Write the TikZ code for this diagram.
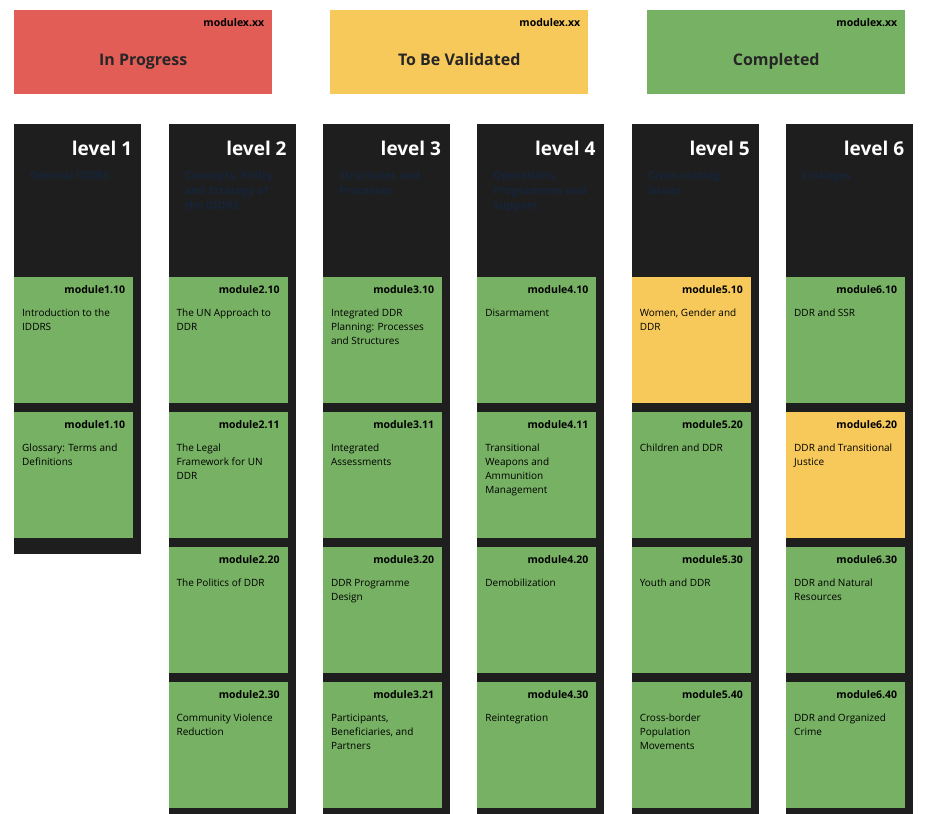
\documentclass[tikz,border=0pt]{standalone}
\usepackage{fontspec}
\setmainfont{Open Sans}
\usetikzlibrary{positioning}
\definecolor{redbox}{HTML}{E35D57}
\definecolor{yellowbox}{HTML}{F6C95A}
\definecolor{greenbox}{HTML}{77B163}
\definecolor{columnbg}{HTML}{1E1E1E}
\definecolor{subtext}{HTML}{16243A}
\tikzset{
	legend/.style={draw=none, minimum width=258pt, minimum height=84pt, anchor=north west},
	column/.style={fill=columnbg, draw=none, minimum width=127pt, anchor=north west},
	card/.style={draw=none, minimum width=119pt, minimum height=126pt, anchor=north west},
	tag/.style={font=\fontsize{10.5}{12}\selectfont\bfseries, anchor=north east, inner sep=0pt},
	body/.style={font=\fontsize{10}{14}\selectfont, align=left, anchor=north west, inner sep=0pt},
	lvl/.style={font=\fontsize{19}{20}\selectfont\bfseries, text=white, anchor=north east, inner sep=0pt},
	sub/.style={font=\fontsize{11}{15}\selectfont\bfseries, text=subtext, align=left, anchor=north west, inner sep=0pt},
}
% card: name, column, row, colour, module, text
\newcommand{\card}[6]{
	\node[card, fill=#4] (#1) at ({14+154.4*(#2-1)},{-277-135*(#3-1)}) {};
	\node[tag] (#1tag) at ([xshift=-8pt,yshift=-8pt]#1.north east) {#5};
	\node[body] (#1txt) at ([xshift=8pt,yshift=-32pt]#1.north west) {#6};
}
\begin{document}
\begin{tikzpicture}[x=1pt,y=1pt]
	\useasboundingbox (0,0) rectangle (927,-814);
	% legend
	\foreach \n/\x/\c/\t in {prog/14/redbox/In Progress, valid/330/yellowbox/To Be Validated, done/647/greenbox/Completed}{
		\node[legend, fill=\c] (\n) at (\x,-10) {};
		\node[tag] (\n tag) at ([xshift=-8pt,yshift=-8pt]\n.north east) {modulex.xx};
		\node[font=\fontsize{16}{18}\selectfont\bfseries, text=black!85, anchor=base, inner sep=0pt] (\n txt) at ([yshift=-13pt]\n.center) {\t};
	}
	% columns
	\foreach \i/\h/\s in {1/430/General IDDRS, 2/690/{Concepts, Policy\\and Strategy of\\the IDDRS}, 3/690/{Structures and\\Processes}, 4/690/{Operations,\\Programmes and\\Support}, 5/690/{Cross-cutting\\Issues}, 6/690/Linkages}{
		\node[column, minimum height=\h pt] (col\i) at ({14+154.4*(\i-1)},-124) {};
		\node[lvl] (lvl\i) at ([xshift=-9pt,yshift=-17pt]col\i.north east) {level \i};
		\node[sub] (sub\i) at ([xshift=16pt,yshift=-47pt]col\i.north west) {\s};
	}
	% cards
	\card{a1}{1}{1}{greenbox}{module1.10}{Introduction to the\\IDDRS}
	\card{a2}{1}{2}{greenbox}{module1.10}{Glossary: Terms and\\Definitions}
	\card{b1}{2}{1}{greenbox}{module2.10}{The UN Approach to\\DDR}
	\card{b2}{2}{2}{greenbox}{module2.11}{The Legal\\Framework for UN\\DDR}
	\card{b3}{2}{3}{greenbox}{module2.20}{The Politics of DDR}
	\card{b4}{2}{4}{greenbox}{module2.30}{Community Violence\\Reduction}
	\card{c1}{3}{1}{greenbox}{module3.10}{Integrated DDR\\Planning: Processes\\and Structures}
	\card{c2}{3}{2}{greenbox}{module3.11}{Integrated\\Assessments}
	\card{c3}{3}{3}{greenbox}{module3.20}{DDR Programme\\Design}
	\card{c4}{3}{4}{greenbox}{module3.21}{Participants,\\Beneficiaries, and\\Partners}
	\card{d1}{4}{1}{greenbox}{module4.10}{Disarmament}
	\card{d2}{4}{2}{greenbox}{module4.11}{Transitional\\Weapons and\\Ammunition\\Management}
	\card{d3}{4}{3}{greenbox}{module4.20}{Demobilization}
	\card{d4}{4}{4}{greenbox}{module4.30}{Reintegration}
	\card{e1}{5}{1}{yellowbox}{module5.10}{Women, Gender and\\DDR}
	\card{e2}{5}{2}{greenbox}{module5.20}{Children and DDR}
	\card{e3}{5}{3}{greenbox}{module5.30}{Youth and DDR}
	\card{e4}{5}{4}{greenbox}{module5.40}{Cross-border\\Population\\Movements}
	\card{f1}{6}{1}{greenbox}{module6.10}{DDR and SSR}
	\card{f2}{6}{2}{yellowbox}{module6.20}{DDR and Transitional\\Justice}
	\card{f3}{6}{3}{greenbox}{module6.30}{DDR and Natural\\Resources}
	\card{f4}{6}{4}{greenbox}{module6.40}{DDR and Organized\\Crime}
\end{tikzpicture}
\end{document}
